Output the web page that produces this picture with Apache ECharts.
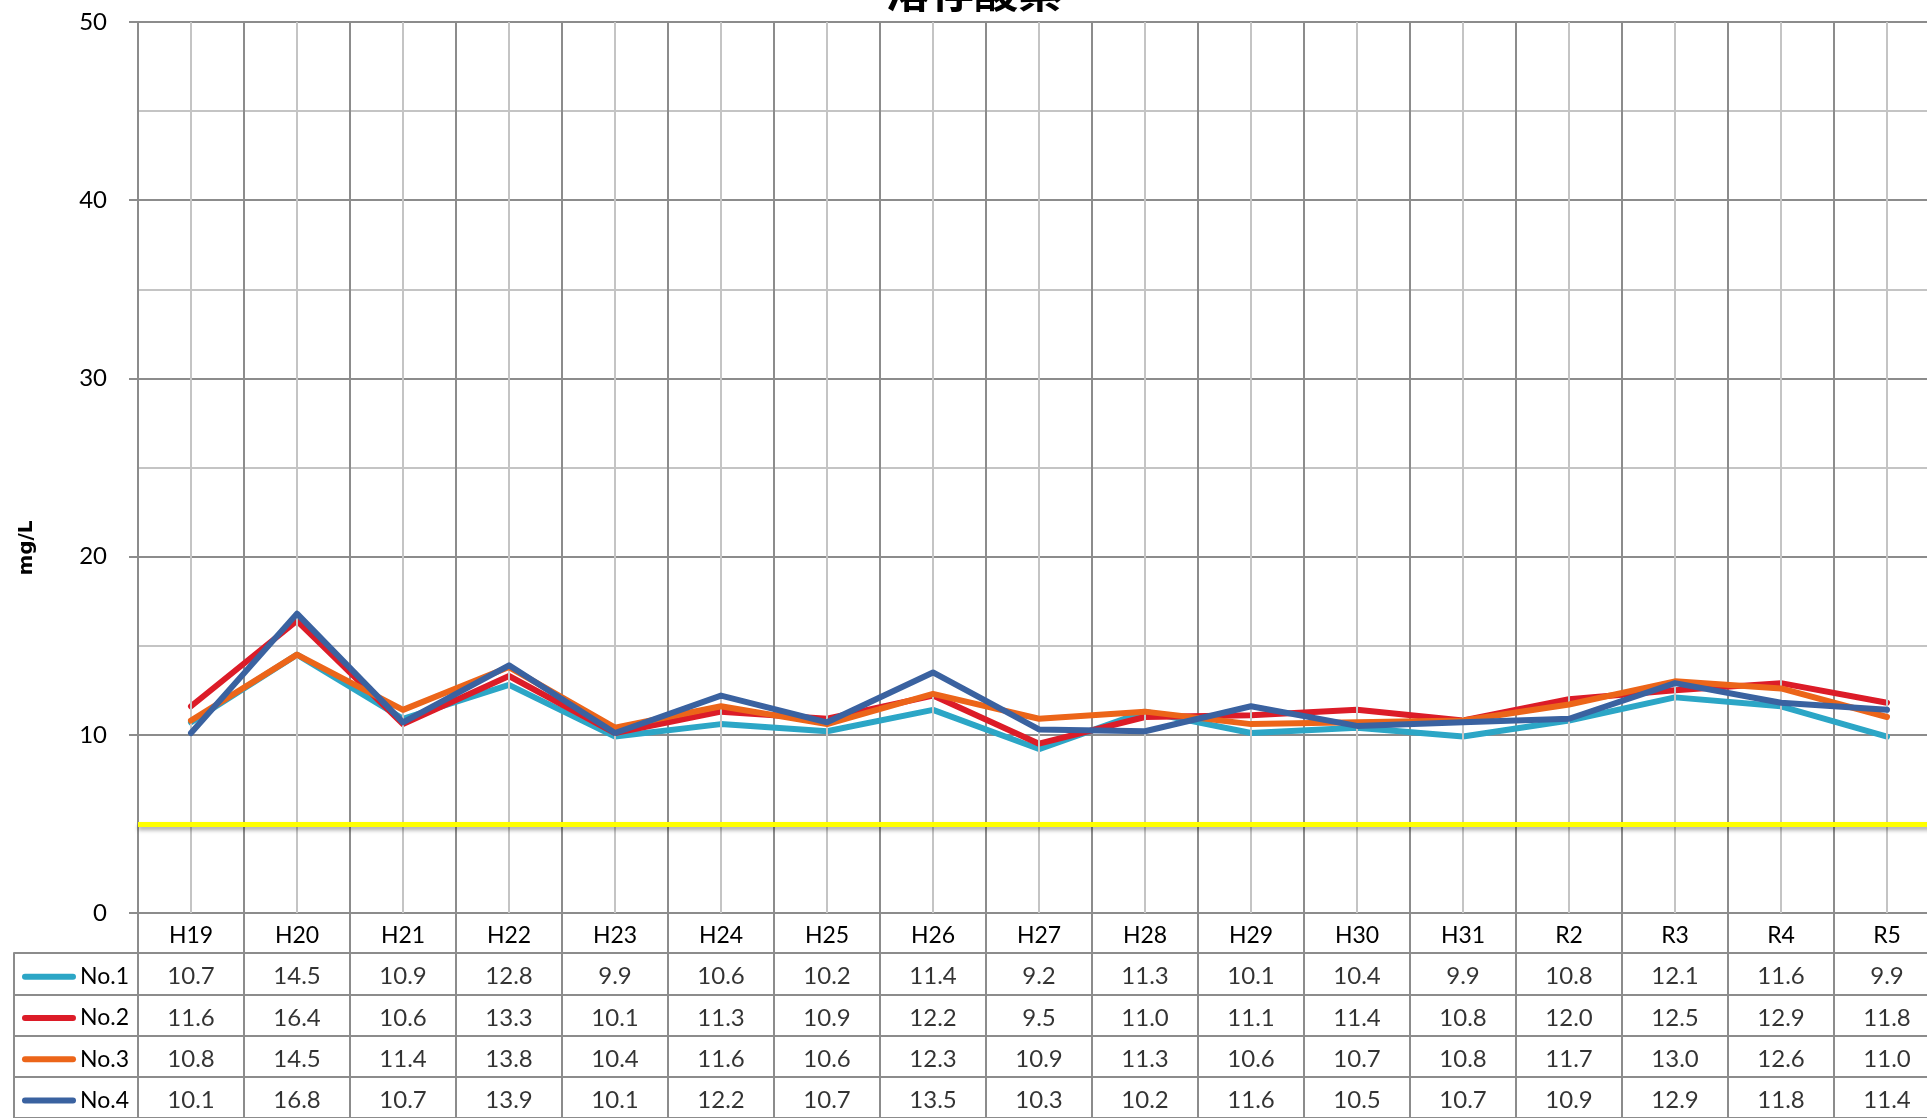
<!DOCTYPE html>
<html>
<head>
<meta charset="utf-8">
<script src="https://cdn.jsdelivr.net/npm/echarts@6/dist/echarts.min.js"></script>
<style>
html,body{margin:0;padding:0;background:#fff;overflow:hidden;width:1927px;height:1118px;}
#chart{width:1940px;height:1118px;}
</style>
</head>
<body>
<div id="chart"></div>
<script>
const titleText = '溶存酸素';
const yAxisName = 'mg/L';
const categories = ['H19','H20','H21','H22','H23','H24','H25','H26','H27','H28','H29','H30','H31','R2','R3','R4','R5'];
const seriesNames = ['No.1','No.2','No.3','No.4'];
const no1 = [10.7,14.5,10.9,12.8,9.9,10.6,10.2,11.4,9.2,11.3,10.1,10.4,9.9,10.8,12.1,11.6,9.9];
const no2 = [11.6,16.4,10.6,13.3,10.1,11.3,10.9,12.2,9.5,11.0,11.1,11.4,10.8,12.0,12.5,12.9,11.8];
const no3 = [10.8,14.5,11.4,13.8,10.4,11.6,10.6,12.3,10.9,11.3,10.6,10.7,10.8,11.7,13.0,12.6,11.0];
const no4 = [10.1,16.8,10.7,13.9,10.1,12.2,10.7,13.5,10.3,10.2,11.6,10.5,10.7,10.9,12.9,11.8,11.4];
const standardValue = 5;
const yTicks = {min:0, max:50, interval:10};

const seriesValues = [no1, no2, no3, no4];
const colors = ['#2ca6c6', '#dc1c28', '#ec6519', '#3a62a0'];
const dark = '#8c8c8c';
const light = '#c4c4c4';
const tableFont = 'Lato';

const chart = echarts.init(document.getElementById('chart'));

const tableData = [];
seriesValues.forEach((vals, r) => vals.forEach((v, i) => tableData.push([i, r, v])));

const rich = {};
seriesNames.forEach((n, i) => {
  rich['s' + i] = {width: 54, height: 6, backgroundColor: colors[i], borderRadius: 3, color: 'transparent', fontSize: 5};
});
rich.t = {fontSize: 23, fontFamily: tableFont, color: '#000', padding: [0, 0, 0, 4]};

const option = {
  animation: false,
  backgroundColor: '#fff',
  title: {
    text: titleText,
    left: 969,
    textAlign: 'center',
    top: -36,
    textStyle: {fontSize: 44, fontWeight: 'bold', color: '#000', fontFamily: 'Noto Sans CJK JP'}
  },
  grid: [
    {left: 138, top: 22, height: 891, right: 0, containLabel: false},
    {left: 138, top: 953, height: 168, right: 0, containLabel: false}
  ],
  xAxis: [
    {
      type: 'category', gridIndex: 0, data: categories, boundaryGap: true,
      axisLine: {show: true, lineStyle: {color: dark, width: 2}},
      axisTick: {show: true, length: 40, inside: false, lineStyle: {color: dark, width: 2}},
      axisLabel: {show: true, margin: 11, fontSize: 23, fontFamily: tableFont, color: '#000'},
      splitLine: {show: true, lineStyle: {color: dark, width: 2}}
    },
    {
      type: 'category', gridIndex: 1, data: categories, boundaryGap: true, position: 'top',
      axisLine: {show: true, lineStyle: {color: dark, width: 2}},
      axisTick: {show: false},
      axisLabel: {show: false},
      splitLine: {show: true, lineStyle: {color: dark, width: 2}}
    }
  ],
  yAxis: [
    {
      type: 'value', gridIndex: 0, min: yTicks.min, max: yTicks.max, interval: yTicks.interval,
      axisLine: {show: true, lineStyle: {color: dark, width: 2}},
      axisTick: {show: true, length: 9, inside: false, lineStyle: {color: dark, width: 2}},
      axisLabel: {margin: 31, fontSize: 24, fontFamily: tableFont, color: '#000'},
      splitLine: {show: true, lineStyle: {color: dark, width: 2}},
      minorTick: {show: false, splitNumber: 2},
      minorSplitLine: {show: true, lineStyle: {color: light, width: 2}}
    },
    {
      type: 'category', gridIndex: 1, data: seriesNames, inverse: true, boundaryGap: true,
      axisLine: {show: true, lineStyle: {color: dark, width: 2}},
      axisTick: {show: true, length: 124, inside: false, lineStyle: {color: dark, width: 2}},
      axisLabel: {
        margin: 9, align: 'right', rich: rich, padding: [6, 0, 0, 0],
        formatter: (v, i) => '{s' + i + '| }{t|' + v + '}'
      },
      splitLine: {show: true, lineStyle: {color: dark, width: 2}}
    },
    {
      type: 'category', gridIndex: 1, data: seriesNames, inverse: true, position: 'left', offset: 124,
      axisLine: {show: true, lineStyle: {color: dark, width: 2}},
      axisTick: {show: false}, axisLabel: {show: false}, splitLine: {show: false}
    }
  ],
  graphic: [{
    type: 'text', x: 27, y: 548, rotation: Math.PI / 2,
    style: {text: yAxisName, font: 'bold 20px "DejaVu Sans"', fill: '#000', textAlign: 'center', textVerticalAlign: 'middle'}
  }],
  series: [
    {
      type: 'line', xAxisIndex: 0, yAxisIndex: 0, data: [], z: 1, silent: true,
      markLine: {
        silent: true, symbol: 'none', label: {show: false}, animation: false,
        data: categories.map(c => ({xAxis: c, lineStyle: {color: light, width: 2, type: 'solid'}}))
          .concat([{yAxis: standardValue, lineStyle: {color: '#ffff00', width: 5, type: 'solid', shadowColor: 'rgba(0,0,0,0.35)', shadowBlur: 4, shadowOffsetY: 3}}])
      }
    },
    ...seriesNames.map((n, i) => ({
      name: n, type: 'line', xAxisIndex: 0, yAxisIndex: 0, data: seriesValues[i],
      symbol: 'none', z: 3 + i,
      lineStyle: {color: colors[i], width: 6, cap: 'round', join: 'round'},
      itemStyle: {color: colors[i]}
    })),
    {
      type: 'scatter', xAxisIndex: 1, yAxisIndex: 1, data: tableData, symbolSize: 1,
      itemStyle: {color: 'rgba(0,0,0,0)'}, silent: true,
      encode: {x: 0, y: 1},
      label: {show: true, position: 'inside', offset: [0, 3], fontSize: 24, fontFamily: tableFont, color: '#000',
        formatter: p => p.value[2].toFixed(1)}
    }
  ]
};
chart.setOption(option);
</script>
</body>
</html>
